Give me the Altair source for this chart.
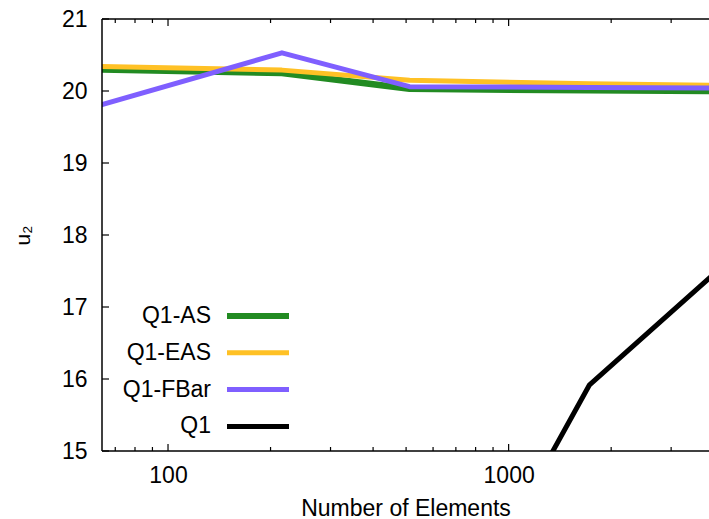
import altair as alt
import pandas as pd

# Series values (number of elements vs. u2)
elements = [64, 216, 512, 1728, 4096]
q1_as = [20.30, 20.25, 20.03, 20.01, 20.00]
q1_eas = [20.34, 20.29, 20.15, 20.10, 20.08]
q1_fbar = [19.81, 20.53, 20.06, 20.05, 20.04]
q1_elements = [512, 1728, 4096]
q1 = [11.4, 15.92, 17.50]

series_names = ["Q1-AS", "Q1-EAS", "Q1-FBar", "Q1"]
series_colors = ["#228B22", "#FFC125", "#7F5FFF", "#000000"]
series_widths = [6.5, 5, 5, 5]

x_major = [100, 1000]
x_minor = [70, 80, 90, 200, 300, 400, 500, 600, 700, 800, 900, 2000, 3000]
y_ticks = [15, 16, 17, 18, 19, 20, 21]

W, H = 607, 432
FONT = "Liberation Sans"
FS = 23

frames = [
    pd.DataFrame({"n": elements, "v": q1_as}),
    pd.DataFrame({"n": elements, "v": q1_eas}),
    pd.DataFrame({"n": elements, "v": q1_fbar}),
    pd.DataFrame({"n": q1_elements, "v": q1}),
]

x_enc = alt.X(
    "n:Q",
    scale=alt.Scale(type="log", domain=[64, 3875], nice=False),
    axis=alt.Axis(values=x_major, format="d", ticks=False, domain=False, grid=False,
                  labelPadding=13, title="Number of Elements", titlePadding=10),
)
y_enc = alt.Y(
    "v:Q",
    scale=alt.Scale(domain=[15, 21], nice=False, zero=False),
    axis=alt.Axis(values=y_ticks, ticks=False, domain=False, grid=False,
                  labelPadding=15, title="u₂", titlePadding=28, titleFontSize=21),
)

layers = []
for df, c, w in zip(frames, series_colors, series_widths):
    layers.append(
        alt.Chart(df).mark_line(color=c, strokeWidth=w, strokeCap="round",
                                strokeJoin="round", clip=True)
        .encode(x=x_enc, y=y_enc)
    )

# inward tick marks on bottom, top and left edges
major_df = pd.DataFrame({"n": x_major})
minor_df = pd.DataFrame({"n": x_minor})
for tdf, ln in [(major_df, 7), (minor_df, 4)]:
    layers.append(alt.Chart(tdf).mark_rule(color="black", strokeWidth=1.2)
                  .encode(x=x_enc, y=alt.value(H), y2=alt.value(H - ln)))
    layers.append(alt.Chart(tdf).mark_rule(color="black", strokeWidth=1.2)
                  .encode(x=x_enc, y=alt.value(0), y2=alt.value(ln)))
ytick_df = pd.DataFrame({"v": y_ticks})
layers.append(alt.Chart(ytick_df).mark_rule(color="black", strokeWidth=1.2)
              .encode(y=y_enc, x=alt.value(0), x2=alt.value(7)))

# plot frame (top, left, bottom)
frame_df = pd.DataFrame({"k": [0]})
layers.append(alt.Chart(frame_df).mark_rule(color="black", strokeWidth=1.5)
              .encode(x=alt.value(0), x2=alt.value(W), y=alt.value(0)))
layers.append(alt.Chart(frame_df).mark_rule(color="black", strokeWidth=1.5)
              .encode(x=alt.value(0), x2=alt.value(W), y=alt.value(H)))
layers.append(alt.Chart(frame_df).mark_rule(color="black", strokeWidth=1.5)
              .encode(x=alt.value(0), y=alt.value(0), y2=alt.value(H)))

# legend entries: label on the left, line sample on the right
row0, step = 297, 36.8
for i, (name, c, w) in enumerate(zip(series_names, series_colors, series_widths)):
    ry = row0 + i * step
    ldf = pd.DataFrame({"label": [name]})
    layers.append(alt.Chart(ldf).mark_text(align="right", baseline="middle", font=FONT,
                                           fontSize=FS, color="black")
                  .encode(text="label:N", x=alt.value(109), y=alt.value(ry)))
    layers.append(alt.Chart(ldf).mark_rule(color=c, strokeWidth=min(w, 6))
                  .encode(x=alt.value(125), x2=alt.value(187), y=alt.value(ry)))

chart = (
    alt.layer(*layers)
    .properties(width=W, height=H, autosize="none",
                padding={"left": 102, "top": 19, "right": 0, "bottom": 68})
    .configure_view(stroke=None)
    .configure_axis(labelFont=FONT, titleFont=FONT, labelFontSize=FS, titleFontSize=FS,
                    labelColor="black", titleColor="black", titleFontWeight="normal")
)

chart.save("out.html", embed_options={"renderer": "svg", "actions": False})
